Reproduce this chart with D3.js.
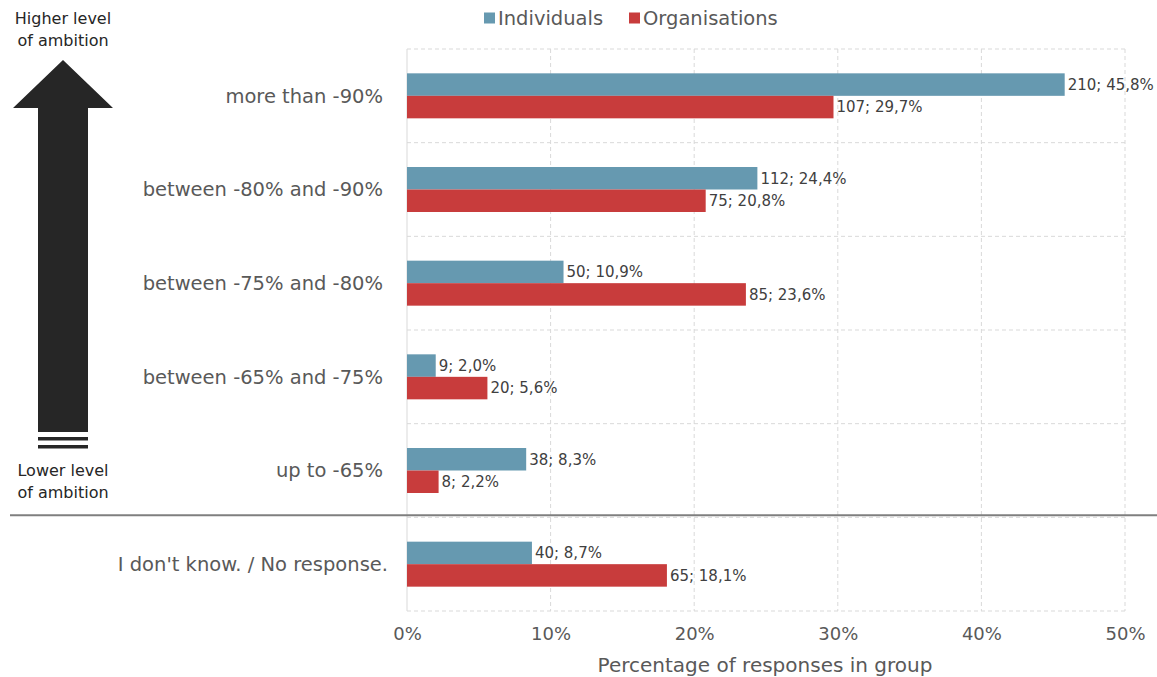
<!DOCTYPE html>
<html>
<head>
<meta charset="utf-8">
<script src="https://cdn.jsdelivr.net/npm/d3@7"></script>
<style>
  body { margin: 0; background: #fff; }
  svg { font-family: "DejaVu Sans", sans-serif; }
</style>
</head>
<body>
<svg id="chart" width="1157" height="677"></svg>
<script>
const categories = [
  "more than -90%",
  "between -80% and -90%",
  "between -75% and -80%",
  "between -65% and -75%",
  "up to -65%",
  "I don't know. / No response."
];
const individualsCount = [210, 112, 50, 9, 38, 40];
const individualsPct = [45.8, 24.4, 10.9, 2.0, 8.3, 8.7];
const organisationsCount = [107, 75, 85, 20, 8, 65];
const organisationsPct = [29.7, 20.8, 23.6, 5.6, 2.2, 18.1];
const xTicks = [0, 10, 20, 30, 40, 50];
const seriesNames = ["Individuals", "Organisations"];

const svg = d3.select("#chart");
const margin = { left: 407, right: 32, top: 49, bottom: 66 };
const width = 1157;
const height = 677;

const color = d3.scaleOrdinal().domain(seriesNames).range(["#6699b0", "#c83c3c"]);

const x = d3.scaleLinear().domain([0, 50]).range([margin.left, width - margin.right]);
const y = d3.scaleBand().domain(categories).range([margin.top, height - margin.bottom]);
const barH = 22.5;

const fmt = v => v.toFixed(1).replace(".", ",") + "%";

// grid
const grid = svg.append("g");
grid.selectAll("line.v")
  .data(xTicks.slice(1))
  .join("line")
  .attr("x1", d => x(d)).attr("x2", d => x(d))
  .attr("y1", margin.top).attr("y2", height - margin.bottom)
  .attr("stroke", "#d9d9d9").attr("stroke-dasharray", "4,3");
grid.selectAll("line.h")
  .data(categories.map(c => y(c)).concat([height - margin.bottom]))
  .join("line")
  .attr("x1", margin.left).attr("x2", x(50))
  .attr("y1", d => d).attr("y2", d => d)
  .attr("stroke", "#d9d9d9").attr("stroke-dasharray", "4,3");
svg.append("line")
  .attr("x1", margin.left).attr("x2", margin.left)
  .attr("y1", margin.top).attr("y2", height - margin.bottom)
  .attr("stroke", "#d9d9d9");

// bars
const rows = categories.map((c, i) => ({
  cat: c,
  bars: [
    { s: seriesNames[0], n: individualsCount[i], p: individualsPct[i] },
    { s: seriesNames[1], n: organisationsCount[i], p: organisationsPct[i] }
  ]
}));

const rowG = svg.append("g").selectAll("g")
  .data(rows)
  .join("g")
  .attr("transform", d => `translate(0,${y(d.cat) + y.bandwidth() / 2})`);

rowG.selectAll("rect")
  .data(d => d.bars)
  .join("rect")
  .attr("x", x(0))
  .attr("y", (d, i) => i === 0 ? -barH : 0)
  .attr("width", d => x(d.p) - x(0))
  .attr("height", barH)
  .attr("fill", d => color(d.s));

rowG.selectAll("text.val")
  .data(d => d.bars)
  .join("text")
  .attr("class", "val")
  .attr("x", d => x(d.p) + 3)
  .attr("y", (d, i) => i === 0 ? -barH / 2 : barH / 2)
  .attr("dy", "0.35em")
  .attr("font-size", 15)
  .attr("fill", "#404040")
  .text(d => `${d.n}; ${fmt(d.p)}`);

// category labels
svg.append("g").selectAll("text")
  .data(categories)
  .join("text")
  .attr("x", (d, i) => i === 5 ? 388 : 383)
  .attr("y", d => y(d) + y.bandwidth() / 2)
  .attr("dy", "0.35em")
  .attr("text-anchor", "end")
  .attr("font-size", 19.5)
  .attr("fill", "#595959")
  .text(d => d);

// x axis
const xAxis = svg.append("g")
  .attr("transform", `translate(0,${height - margin.bottom})`)
  .call(d3.axisBottom(x).tickValues(xTicks).tickFormat(d => d + "%").tickSize(0).tickPadding(16));
xAxis.select(".domain").remove();
xAxis.selectAll("text").attr("font-size", 18).attr("fill", "#595959").attr("font-family", "DejaVu Sans, sans-serif");

svg.append("text")
  .attr("x", 765).attr("y", 672)
  .attr("text-anchor", "middle")
  .attr("font-size", 20)
  .attr("fill", "#595959")
  .text("Percentage of responses in group");

// separator between scale categories and "don't know"
svg.append("line")
  .attr("x1", 10).attr("x2", width)
  .attr("y1", y(categories[5]) - 2).attr("y2", y(categories[5]) - 2)
  .attr("stroke", "#7f7f7f").attr("stroke-width", 2);

// legend
const legend = svg.append("g").selectAll("g")
  .data(seriesNames)
  .join("g")
  .attr("transform", (d, i) => `translate(${i === 0 ? 484 : 629},18)`);
legend.append("rect")
  .attr("x", 0).attr("y", -5.5).attr("width", 11).attr("height", 11)
  .attr("fill", d => color(d));
legend.append("text")
  .attr("x", 14).attr("dy", "0.35em")
  .attr("font-size", 19.5).attr("fill", "#595959")
  .text(d => d);

// ambition arrow
const arrow = svg.append("g");
arrow.append("path")
  .attr("d", "M63,60 L113,108 L88,108 L88,432 L38,432 L38,108 L13,108 Z")
  .attr("fill", "#262626");
arrow.append("rect").attr("x", 38).attr("y", 437).attr("width", 50).attr("height", 3.5).attr("fill", "#262626");
arrow.append("rect").attr("x", 38).attr("y", 445).attr("width", 50).attr("height", 3.5).attr("fill", "#262626");

const sideText = [
  { lines: ["Higher level", "of ambition"], y: 18 },
  { lines: ["Lower level", "of ambition"], y: 470 }
];
sideText.forEach(t => {
  t.lines.forEach((l, i) => {
    svg.append("text")
      .attr("x", 63).attr("y", t.y + i * 22)
      .attr("dy", "0.35em")
      .attr("text-anchor", "middle")
      .attr("font-size", 16)
      .attr("fill", "#262626")
      .text(l);
  });
});
</script>
</body>
</html>
